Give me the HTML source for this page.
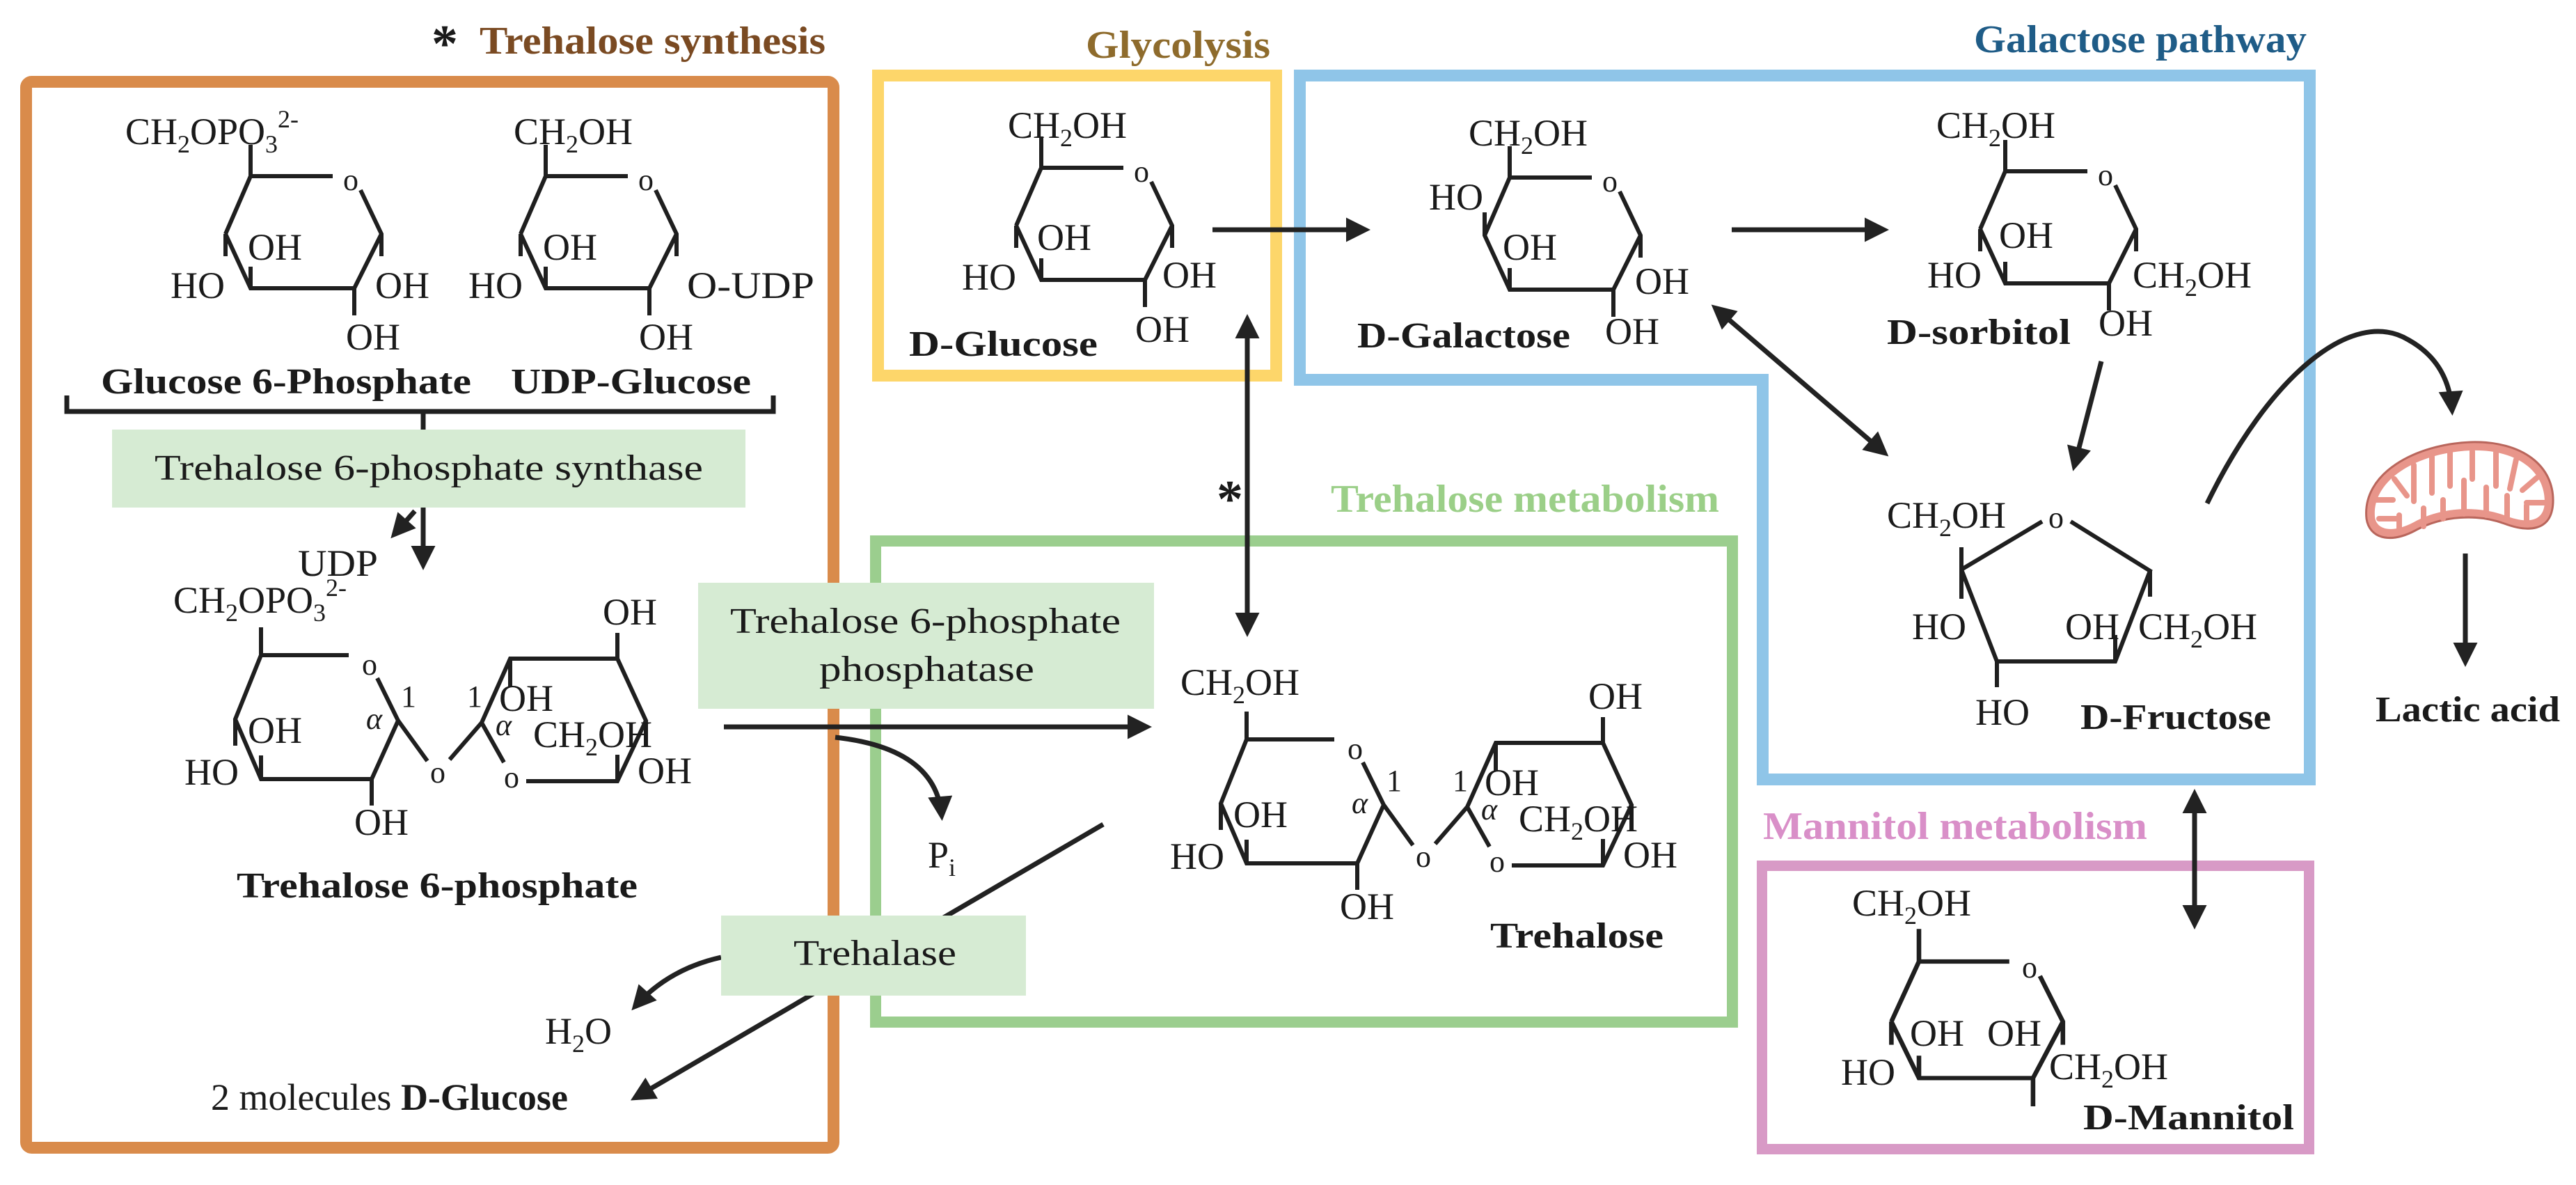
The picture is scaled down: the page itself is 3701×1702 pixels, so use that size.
<!DOCTYPE html>
<html><head><meta charset="utf-8"><style>
html,body{margin:0;padding:0;background:#fff;}
svg{display:block;}
text{font-family:"Liberation Serif",serif;fill:#1a1a1a;}
.m{font-size:54px;}
.b{font-size:52px;font-weight:bold;}
.o{font-size:44px;}
.t{font-size:56px;font-weight:bold;}
.e{font-size:52px;}
.ln{stroke:#1f1f1f;stroke-width:6;fill:none;stroke-linejoin:miter;}
.ar{stroke:#222;stroke-width:7;fill:none;}
</style></head><body>
<svg width="3701" height="1702" viewBox="0 0 3701 1702" xmlns="http://www.w3.org/2000/svg">
<defs>
<marker id="ah" viewBox="0 0 10 10" refX="8" refY="5" markerWidth="5.5" markerHeight="5" orient="auto-start-reverse" markerUnits="strokeWidth">
<path d="M0,0 L10,5 L0,10 Z" fill="#222"/></marker>
<path id="ring" d="M0,0 H118 M158,20 L188,83 L188,115 M188,83 L149,161 H0 L-36,83 L-36,115 M-36,83 L0,0 M0,0 V-45 M149,161 V200 M0,161 V130"/>
<path id="ringG" d="M0,0 H118 M158,20 L188,83 L188,115 M188,83 L149,161 H0 L-36,83 L-36,50 M-36,83 L0,0 M0,0 V-45 M149,161 V200 M0,161 V130"/>
</defs>

<!-- Boxes -->
<rect x="37.5" y="117.5" width="1160" height="1531" rx="8" fill="none" stroke="#D98B4B" stroke-width="17"/>
<rect x="1261.5" y="108.5" width="572" height="431" fill="none" stroke="#FDD66A" stroke-width="17"/>
<path d="M1867.5,108.5 H3318.5 V1119.5 H2532.5 V545.5 H1867.5 Z" fill="none" stroke="#8FC5E8" stroke-width="17"/>
<rect x="1258" y="777" width="1231" height="691" fill="none" stroke="#9BCE8E" stroke-width="16"/>
<rect x="2531.5" y="1243.5" width="786" height="407" fill="none" stroke="#D89AC6" stroke-width="15"/>

<!-- Titles -->
<text x="620" y="88" class="t" style="font-size:76px">*</text>
<text x="689" y="77" class="t" style="fill:#7A4A22" textLength="497" lengthAdjust="spacingAndGlyphs">Trehalose synthesis</text>
<text x="1560" y="83" class="t" style="fill:#8E6B2C" textLength="265" lengthAdjust="spacingAndGlyphs">Glycolysis</text>
<text x="2836" y="75" class="t" style="fill:#1F5C87" textLength="478" lengthAdjust="spacingAndGlyphs">Galactose pathway</text>
<text x="1912" y="735" class="t" style="fill:#9BCF88" textLength="558" lengthAdjust="spacingAndGlyphs">Trehalose metabolism</text>
<text x="2533" y="1205" class="t" style="fill:#D98FC8" textLength="552" lengthAdjust="spacingAndGlyphs">Mannitol metabolism</text>

<!-- Arrows (behind labels) -->
<path class="ar" d="M1585,1184 L912,1577" marker-end="url(#ah)"/>
<path class="ar" d="M1036,1375 Q960,1392 912,1446" marker-end="url(#ah)"/>
<path class="ar" d="M1040,1044 H1648" marker-end="url(#ah)"/>
<path class="ar" d="M1200,1059 Q1345,1075 1353,1172" marker-end="url(#ah)"/>
<path class="ar" d="M1792,458 V908" marker-start="url(#ah)" marker-end="url(#ah)"/>
<path class="ar" d="M608,729 V812" marker-end="url(#ah)"/>
<path class="ar" d="M596,734 L566,768" marker-end="url(#ah)"/>
<path class="ar" d="M1742,330 H1962" marker-end="url(#ah)"/>
<path class="ar" d="M2488,330 H2707" marker-end="url(#ah)"/>
<path class="ar" d="M2464,442 L2708,651" marker-start="url(#ah)" marker-end="url(#ah)"/>
<path class="ar" d="M3019,519 L2980,670" marker-end="url(#ah)"/>
<path class="ar" d="M3153,1140 V1328" marker-start="url(#ah)" marker-end="url(#ah)"/>
<path class="ar" d="M3171,723 C3260,540 3380,440 3460,488 C3500,510 3520,545 3523,590" marker-end="url(#ah)"/>
<path class="ar" d="M3542,795 V951" marker-end="url(#ah)"/>
<text x="1748" y="742" class="t" style="font-size:76px">*</text>

<!-- Enzyme labels -->
<rect x="161" y="617" width="910" height="112" fill="#D6EBD3"/>
<text x="222" y="689" class="e" textLength="788" lengthAdjust="spacingAndGlyphs">Trehalose 6-phosphate synthase</text>
<rect x="1003" y="837" width="655" height="181" fill="#D6EBD3"/>
<text x="1049" y="909" class="e" textLength="561" lengthAdjust="spacingAndGlyphs">Trehalose 6-phosphate</text>
<text x="1177" y="978" class="e" textLength="309" lengthAdjust="spacingAndGlyphs">phosphatase</text>
<rect x="1036" y="1315" width="438" height="115" fill="#D6EBD3"/>
<text x="1140" y="1386" class="e" textLength="234" lengthAdjust="spacingAndGlyphs">Trehalase</text>

<!-- Bracket -->
<path class="ln" d="M96,568 V591 H1111 V568 M608,591 V617" style="stroke-width:7"/>

<!-- Glucose 6-phosphate -->
<use href="#ring" class="ln" transform="translate(360,253)"/>
<text x="493" y="273" class="o">o</text>
<text x="180" y="207" class="m">CH<tspan dy="12" font-size="36">2</tspan><tspan dy="-12">OPO</tspan><tspan dy="12" font-size="36">3</tspan><tspan dy="-36" font-size="36">2-</tspan></text>
<text x="245" y="428" class="m">HO</text>
<text x="356" y="373" class="m">OH</text>
<text x="539" y="428" class="m">OH</text>
<text x="497" y="502" class="m">OH</text>

<!-- UDP-glucose -->
<use href="#ring" class="ln" transform="translate(784,253)"/>
<text x="917" y="273" class="o">o</text>
<text x="738" y="207" class="m">CH<tspan dy="12" font-size="36">2</tspan><tspan dy="-12">OH</tspan></text>
<text x="673" y="428" class="m">HO</text>
<text x="780" y="373" class="m">OH</text>
<text x="987" y="428" class="m" textLength="183" lengthAdjust="spacingAndGlyphs">O-UDP</text>
<text x="918" y="502" class="m">OH</text>
<text x="145" y="565" class="b" textLength="532" lengthAdjust="spacingAndGlyphs">Glucose 6-Phosphate</text>
<text x="734" y="565" class="b" textLength="345" lengthAdjust="spacingAndGlyphs">UDP-Glucose</text>

<text x="428" y="827" class="m" textLength="115" lengthAdjust="spacingAndGlyphs">UDP</text>

<!-- D-Glucose -->
<use href="#ring" class="ln" transform="translate(1496,241)"/>
<text x="1629" y="261" class="o">o</text>
<text x="1448" y="198" class="m">CH<tspan dy="12" font-size="36">2</tspan><tspan dy="-12">OH</tspan></text>
<text x="1382" y="416" class="m">HO</text>
<text x="1490" y="359" class="m">OH</text>
<text x="1670" y="413" class="m">OH</text>
<text x="1631" y="491" class="m">OH</text>
<text x="1306" y="511" class="b" textLength="271" lengthAdjust="spacingAndGlyphs">D-Glucose</text>

<!-- D-Galactose -->
<use href="#ringG" class="ln" transform="translate(2169,255)"/>
<text x="2302" y="275" class="o">o</text>
<text x="2110" y="209" class="m">CH<tspan dy="12" font-size="36">2</tspan><tspan dy="-12">OH</tspan></text>
<text x="2053" y="301" class="m">HO</text>
<text x="2159" y="373" class="m">OH</text>
<text x="2349" y="422" class="m">OH</text>
<text x="2306" y="494" class="m">OH</text>
<text x="1950" y="499" class="b" textLength="306" lengthAdjust="spacingAndGlyphs">D-Galactose</text>

<!-- D-sorbitol -->
<use href="#ring" class="ln" transform="translate(2881,246)"/>
<text x="3014" y="266" class="o">o</text>
<text x="2782" y="198" class="m">CH<tspan dy="12" font-size="36">2</tspan><tspan dy="-12">OH</tspan></text>
<text x="2769" y="413" class="m">HO</text>
<text x="2872" y="356" class="m">OH</text>
<text x="3064" y="413" class="m">CH<tspan dy="12" font-size="36">2</tspan><tspan dy="-12">OH</tspan></text>
<text x="3015" y="482" class="m">OH</text>
<text x="2711" y="494" class="b" textLength="264" lengthAdjust="spacingAndGlyphs">D-sorbitol</text>

<!-- D-Fructose -->
<path class="ln" d="M2818,818 L2934,749 M2975,749 L3089,820 L3039,950 H2869 L2818,818 M2818,786 V860 M3089,820 V857 M3039,950 V912 M2869,950 V987"/>
<text x="2943" y="758" class="o">o</text>
<text x="2711" y="758" class="m">CH<tspan dy="12" font-size="36">2</tspan><tspan dy="-12">OH</tspan></text>
<text x="2747" y="918" class="m">HO</text>
<text x="2967" y="918" class="m">OH</text>
<text x="3072" y="918" class="m">CH<tspan dy="12" font-size="36">2</tspan><tspan dy="-12">OH</tspan></text>
<text x="2838" y="1041" class="m">HO</text>
<text x="2989" y="1047" class="b" textLength="274" lengthAdjust="spacingAndGlyphs">D-Fructose</text>

<!-- Mitochondrion -->
<path d="M3400,745 C3393,680 3470,638 3550,635 C3625,633 3670,670 3668,722 C3666,765 3630,764 3598,752 C3560,738 3510,740 3470,762 C3432,782 3404,772 3400,745 Z" fill="#E8958A" stroke="#B9665C" stroke-width="3"/>
<path d="M3412,742 C3408,688 3475,650 3550,647 C3615,645 3656,676 3656,720 C3656,752 3628,752 3598,740 C3558,726 3508,728 3468,750 C3438,766 3414,762 3412,742 Z" fill="#fff"/>
<g stroke="#E8958A" stroke-width="8" stroke-linecap="round" fill="none">
<path d="M3410,718 H3438 M3418,745 H3444 M3440,688 L3458,712 M3447,764 V740 M3468,668 V720 M3482,756 V730 M3494,656 V708 M3510,745 V718 M3520,648 V698 M3540,738 V690 M3552,648 V688 M3572,740 V700 M3586,650 V698 M3602,746 V712 M3615,660 L3606,702 M3630,752 V726 M3645,686 L3624,704 M3656,722 H3630"/>
</g>
<text x="3413" y="1036" class="b" textLength="265" lengthAdjust="spacingAndGlyphs">Lactic acid</text>

<!-- D-Mannitol -->
<use href="#ring" class="ln" transform="translate(2757,1381) scale(1.1,1.04)"/>
<text x="2905" y="1404" class="o">o</text>
<text x="2661" y="1315" class="m">CH<tspan dy="12" font-size="36">2</tspan><tspan dy="-12">OH</tspan></text>
<text x="2744" y="1502" class="m">OH</text>
<text x="2855" y="1502" class="m">OH</text>
<text x="2645" y="1558" class="m">HO</text>
<text x="2944" y="1550" class="m">CH<tspan dy="12" font-size="36">2</tspan><tspan dy="-12">OH</tspan></text>
<text x="2993" y="1622" class="b" textLength="303" lengthAdjust="spacingAndGlyphs">D-Mannitol</text>

<!-- Trehalose skeleton (used twice) -->
<g id="treh">
<path class="ln" d="M1791,1062 H1917 M1958,1095 L1988,1156 L1950,1240 H1791 L1754,1154 L1791,1062 M1754,1154 V1192 M1791,1062 V1022 M1950,1240 V1278 M1791,1240 V1206 M1988,1156 L2030,1214 M2062,1212 L2108,1159 L2149,1067 H2303 L2344,1156 L2303,1243 H2172 M2108,1159 L2140,1216 M2303,1067 V1030 M2149,1067 V1108 M2344,1156 V1194 M2303,1243 V1205"/>
<text x="1936" y="1090" class="o">o</text>
<text x="2034" y="1245" class="o">o</text>
<text x="2140" y="1252" class="o">o</text>
<text x="1992" y="1136" class="o">1</text>
<text x="1942" y="1168" class="o" font-style="italic">α</text>
<text x="2087" y="1136" class="o">1</text>
<text x="2128" y="1177" class="o" font-style="italic">α</text>
<text x="2282" y="1018" class="m">OH</text>
<text x="2133" y="1142" class="m">OH</text>
<text x="2182" y="1194" class="m">CH<tspan dy="12" font-size="36">2</tspan><tspan dy="-12">OH</tspan></text>
<text x="2332" y="1246" class="m">OH</text>
<text x="1925" y="1320" class="m">OH</text>
<text x="1681" y="1248" class="m">HO</text>
<text x="1772" y="1188" class="m">OH</text>
</g>
<text x="1696" y="998" class="m">CH<tspan dy="12" font-size="36">2</tspan><tspan dy="-12">OH</tspan></text>
<text x="2141" y="1361" class="b" textLength="249" lengthAdjust="spacingAndGlyphs">Trehalose</text>

<use href="#treh" transform="translate(-1416,-121)"/>
<text x="249" y="880" class="m">CH<tspan dy="12" font-size="36">2</tspan><tspan dy="-12">OPO</tspan><tspan dy="12" font-size="36">3</tspan><tspan dy="-36" font-size="36">2-</tspan></text>
<text x="340" y="1289" class="b" textLength="576" lengthAdjust="spacingAndGlyphs">Trehalose 6-phosphate</text>

<text x="1333" y="1246" class="m">P<tspan dy="12" font-size="36">i</tspan></text>
<text x="783" y="1499" class="m">H<tspan dy="12" font-size="36">2</tspan><tspan dy="-12">O</tspan></text>
<text x="303" y="1594" class="m">2 molecules <tspan font-weight="bold">D-Glucose</tspan></text>
</svg>
</body></html>
